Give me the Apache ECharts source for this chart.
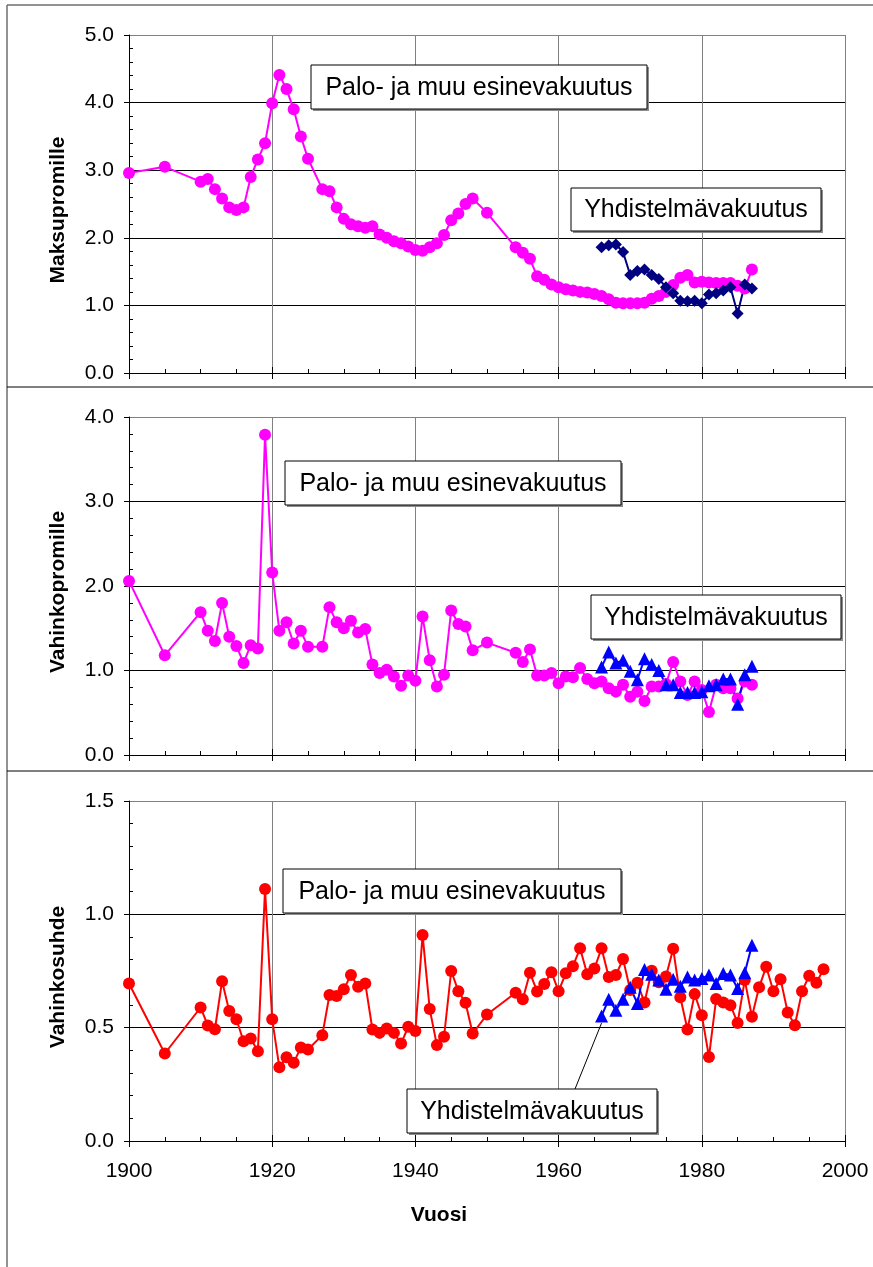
<!DOCTYPE html>
<html>
<head>
<meta charset="utf-8">
<script src="https://cdn.jsdelivr.net/npm/echarts@6/dist/echarts.min.js"></script>
<style>
  html, body { margin: 0; padding: 0; background: #fff; }
  #chart { width: 873px; height: 1267px; }
</style>
</head>
<body>
<div id="chart"></div>
<script>
// Years with observations for the fire & property insurance series
const paloYears = [1900, 1905, 1910, 1911, 1912, 1913, 1914, 1915, 1916, 1917, 1918, 1919, 1920, 1921, 1922, 1923, 1924, 1925,
  1927, 1928, 1929, 1930, 1931, 1932, 1933, 1934, 1935, 1936, 1937, 1938, 1939, 1940, 1941, 1942, 1943, 1944, 1945, 1946, 1947, 1948,
  1950,
  1954, 1955, 1956, 1957, 1958, 1959, 1960, 1961, 1962, 1963, 1964, 1965, 1966, 1967, 1968, 1969, 1970, 1971, 1972, 1973,
  1974, 1975, 1976, 1977, 1978, 1979, 1980, 1981, 1982, 1983, 1984, 1985, 1986, 1987];
const ratioYears = paloYears.concat([1988, 1989, 1990, 1991, 1992, 1993, 1994, 1995, 1996, 1997]);
const yhdYears = [1966, 1967, 1968, 1969, 1970, 1971, 1972, 1973, 1974, 1975, 1976, 1977, 1978, 1979, 1980,
  1981, 1982, 1983, 1984, 1985, 1986, 1987];

// Premium per mille
const paloPremium = [2.96, 3.05, 2.83, 2.87, 2.72, 2.58, 2.45, 2.41, 2.45, 2.90, 3.16, 3.40, 3.99, 4.41, 4.20, 3.90, 3.50, 3.17,
  2.72, 2.69, 2.45, 2.28, 2.20, 2.17, 2.15, 2.17, 2.05, 2.00, 1.95, 1.92, 1.87, 1.82, 1.81, 1.86, 1.92, 2.04, 2.26, 2.36, 2.50, 2.58,
  2.37,
  1.86, 1.78, 1.69, 1.43, 1.38, 1.31, 1.27, 1.24, 1.22, 1.20, 1.19, 1.17, 1.14, 1.09, 1.04, 1.03, 1.03, 1.03, 1.04, 1.10,
  1.14, 1.20, 1.30, 1.41, 1.45, 1.34, 1.35, 1.34, 1.33, 1.33, 1.33, 1.29, 1.25, 1.53];
const yhdPremium = [1.86, 1.89, 1.90, 1.79, 1.45, 1.51, 1.53, 1.45, 1.39, 1.27, 1.18, 1.07, 1.06, 1.07, 1.03,
  1.16, 1.18, 1.22, 1.27, 0.88, 1.31, 1.25];

// Claims per mille
const paloClaims = [2.06, 1.18, 1.69, 1.47, 1.35, 1.80, 1.40, 1.29, 1.09, 1.30, 1.26, 3.79, 2.16, 1.47, 1.57, 1.32, 1.47, 1.28,
  1.28, 1.75, 1.57, 1.50, 1.59, 1.45, 1.49, 1.07, 0.97, 1.01, 0.93, 0.82, 0.94, 0.88, 1.64, 1.12, 0.81, 0.95, 1.71, 1.55, 1.52, 1.24,
  1.33,
  1.21, 1.10, 1.25, 0.94, 0.94, 0.97, 0.85, 0.93, 0.92, 1.03, 0.90, 0.85, 0.87, 0.79, 0.75, 0.83, 0.69, 0.75, 0.64, 0.81,
  0.81, 0.84, 1.10, 0.87, 0.71, 0.87, 0.77, 0.51, 0.83, 0.79, 0.79, 0.67, 0.87, 0.83];
const yhdClaims = [1.04, 1.22, 1.09, 1.12, 0.99, 0.89, 1.14, 1.07, 1.00, 0.83, 0.83, 0.74, 0.74, 0.74, 0.75,
  0.82, 0.83, 0.90, 0.90, 0.60, 0.95, 1.05];

// Loss ratio
const paloRatio = [0.695, 0.386, 0.589, 0.510, 0.493, 0.705, 0.574, 0.537, 0.440, 0.452, 0.396, 1.112, 0.537, 0.325, 0.370, 0.345, 0.413, 0.404,
  0.467, 0.644, 0.640, 0.670, 0.732, 0.680, 0.695, 0.492, 0.477, 0.496, 0.477, 0.430, 0.504, 0.485, 0.909, 0.582, 0.423, 0.460, 0.750, 0.661, 0.610, 0.474,
  0.558,
  0.654, 0.625, 0.742, 0.660, 0.693, 0.744, 0.661, 0.740, 0.771, 0.850, 0.736, 0.761, 0.850, 0.724, 0.732, 0.803, 0.666, 0.698, 0.611, 0.751,
  0.700, 0.726, 0.848, 0.634, 0.492, 0.648, 0.555, 0.371, 0.626, 0.611, 0.599, 0.521, 0.710, 0.548,
  0.678, 0.769, 0.661, 0.714, 0.567, 0.511, 0.661, 0.729, 0.698, 0.758];
const yhdRatio = [0.551, 0.625, 0.577, 0.625, 0.678, 0.607, 0.757, 0.736, 0.710, 0.669, 0.714, 0.683, 0.724, 0.710, 0.717,
  0.732, 0.695, 0.739, 0.732, 0.673, 0.742, 0.864];

// Axis ranges and titles
const yMax = [5, 4, 1.5];
const yStep = [1, 1, 0.5];
const yTitles = ['Maksupromille', 'Vahinkopromille', 'Vahinkosuhde'];
const xTitle = 'Vuosi';
const paloLabel = 'Palo- ja muu esinevakuutus';
const yhdLabel = 'Yhdistelmävakuutus';

const FONT = '"Liberation Sans", Arial, Helvetica, sans-serif';
const pairs = (xs, ys) => xs.map((x, i) => [x, ys[i]]);

const grids = [
  { left: 129, top: 35, width: 716, height: 338 },
  { left: 129, top: 417, width: 716, height: 338 },
  { left: 129, top: 801, width: 716, height: 340 }
];

const xAxes = [];
const yAxes = [];
grids.forEach((g, i) => {
  // main x axis: outward ticks, vertical grid lines, labels on the bottom panel
  xAxes.push({
    type: 'value', gridIndex: i, position: 'bottom', min: 1900, max: 2000, interval: 20,
    axisLine: { show: true, lineStyle: { color: '#000', width: 1 } },
    axisTick: { show: true, inside: false, length: 6, lineStyle: { color: '#000' } },
    axisLabel: { show: i === 2, color: '#000', fontSize: 21, fontFamily: FONT, margin: 20,
      formatter: v => String(v) },
    splitLine: { show: true, lineStyle: { color: '#808080', width: 1 } }
  });
  // companion x axis: inward major ticks plus 5-year minor ticks
  xAxes.push({
    type: 'value', gridIndex: i, position: 'bottom', min: 1900, max: 2000, interval: 20,
    axisLine: { show: false },
    axisTick: { show: true, inside: true, length: 6, lineStyle: { color: '#000' } },
    minorTick: { show: true, splitNumber: 4, length: 4, lineStyle: { color: '#000' } },
    axisLabel: { show: false },
    splitLine: { show: false }
  });
  const nTicks = Math.round(yMax[i] / yStep[i]) + 1;
  const splitColors = [];
  for (let k = 0; k < nTicks; k++) splitColors.push(k === nTicks - 1 ? '#808080' : '#000');
  yAxes.push({
    type: 'value', gridIndex: i, position: 'left', min: 0, max: yMax[i], interval: yStep[i],
    name: yTitles[i], nameLocation: 'middle', nameGap: 60,
    nameTextStyle: { color: '#000', fontSize: 21, fontWeight: 'bold', fontFamily: FONT, padding: [0, 12, 0, 0] },
    axisLine: { show: true, lineStyle: { color: '#000', width: 1 } },
    axisTick: { show: true, inside: false, length: 5, lineStyle: { color: '#000' } },
    axisLabel: { color: '#000', fontSize: 21, fontFamily: FONT, margin: 15,
      formatter: v => v.toFixed(1) },
    splitLine: { show: true, lineStyle: { color: splitColors, width: 1 } }
  });
  yAxes.push({
    type: 'value', gridIndex: i, position: 'left', min: 0, max: yMax[i], interval: yStep[i],
    axisLine: { show: false },
    axisTick: { show: false, inside: true, length: 4 },
    minorTick: { show: true, splitNumber: 5, length: 4, lineStyle: { color: '#000' } },
    axisLabel: { show: false },
    splitLine: { show: false }
  });
});

function lineSeries(panel, data, color, symbol, size) {
  return {
    type: 'line', xAxisIndex: panel * 2, yAxisIndex: panel * 2, data: data,
    symbol: symbol, symbolSize: size, showAllSymbol: true,
    lineStyle: { color: color, width: 2 },
    itemStyle: { color: color, borderWidth: 0 },
    emphasis: { disabled: true }
  };
}

const series = [
  lineSeries(0, pairs(paloYears, paloPremium), '#FF00FF', 'circle', 12),
  lineSeries(0, pairs(yhdYears, yhdPremium), '#000080', 'diamond', 12),
  lineSeries(1, pairs(paloYears, paloClaims), '#FF00FF', 'circle', 12),
  lineSeries(1, pairs(yhdYears, yhdClaims), '#0000FF', 'triangle', 13),
  lineSeries(2, pairs(ratioYears, paloRatio), '#FF0000', 'circle', 12),
  lineSeries(2, pairs(yhdYears, yhdRatio), '#0000FF', 'triangle', 13)
];

const chart = echarts.init(document.getElementById('chart'), null, { renderer: 'canvas' });
chart.setOption({
  animation: false,
  backgroundColor: '#fff',
  grid: grids,
  xAxis: xAxes,
  yAxis: yAxes,
  series: series
});

// Labelled text box with a thin drop shadow
function textBox(x, y, w, h, text) {
  return {
    type: 'group', children: [
      { type: 'rect', shape: { x: x + 2, y: y + 2, width: w, height: h }, style: { fill: '#8c8c8c' } },
      { type: 'rect', shape: { x: x, y: y, width: w, height: h }, style: { fill: '#fff', stroke: '#000', lineWidth: 1 } },
      { type: 'text', style: { text: text, x: x + w / 2, y: y + h / 2 + 1, fill: '#000',
          font: '25px ' + FONT, textAlign: 'center', textVerticalAlign: 'middle', verticalAlign: 'middle' } }
    ]
  };
}

const firstYhd = chart.convertToPixel({ seriesIndex: 5 }, [yhdYears[0], yhdRatio[0]]);

const graphics = [
  // outer frame and panel separators
  { type: 'line', shape: { x1: 7, y1: 5, x2: 873, y2: 5 }, style: { stroke: '#6e6e6e', lineWidth: 1.5 } },
  { type: 'line', shape: { x1: 7, y1: 5, x2: 7, y2: 1267 }, style: { stroke: '#6e6e6e', lineWidth: 1.5 } },
  { type: 'line', shape: { x1: 7, y1: 387, x2: 873, y2: 387 }, style: { stroke: '#000', lineWidth: 1 } },
  { type: 'line', shape: { x1: 7, y1: 771, x2: 873, y2: 771 }, style: { stroke: '#000', lineWidth: 1 } },
  textBox(311, 65, 336, 44, paloLabel),
  textBox(571, 188, 250, 43, yhdLabel),
  textBox(285, 461, 336, 44, paloLabel),
  textBox(591, 595, 250, 44, yhdLabel),
  textBox(283, 869, 338, 44, paloLabel),
  // leader from the label to the first combined-insurance point
  { type: 'line', shape: { x1: 575, y1: 1089, x2: firstYhd[0], y2: firstYhd[1] + 7 }, style: { stroke: '#000', lineWidth: 1 } },
  textBox(407, 1089, 250, 44, yhdLabel),
  { type: 'text', style: { text: xTitle, x: 439, y: 1215, fill: '#000', font: 'bold 21px ' + FONT,
      textAlign: 'center', textVerticalAlign: 'middle', verticalAlign: 'middle' } }
];
chart.setOption({ graphic: graphics });
</script>
</body>
</html>
